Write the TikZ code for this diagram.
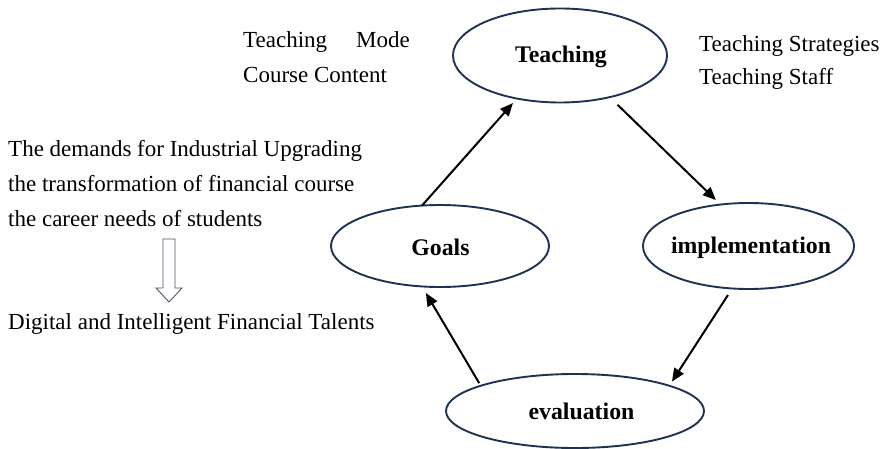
\documentclass[tikz,border=0pt]{standalone}
\usepackage{fontspec}
\setmainfont{Liberation Serif}
\usetikzlibrary{arrows.meta,shapes.geometric}
\definecolor{ringblue}{HTML}{1F3251}
\definecolor{hollowgray}{HTML}{4A5668}
\begin{document}
\begin{tikzpicture}[x=1pt,y=-1pt,
  stage/.style={ellipse,draw=ringblue,line width=1.9pt,inner sep=0pt,outer sep=0pt},
  stagetext/.style={anchor=base,font=\fontsize{23.8}{28}\selectfont\bfseries,inner sep=0pt},
  note/.style={anchor=base west,font=\fontsize{23}{27}\selectfont,inner sep=0pt},
  flow/.style={line width=2pt,-{Triangle[length=13pt,width=11pt]}}]
\useasboundingbox (0,0) rectangle (885,449);

% the four stages of the cycle
\node[stage,minimum width=214pt,minimum height=94pt] (teach) at (560,55.5) {};
\node[stage,minimum width=218pt,minimum height=82pt] (goals) at (440,246) {};
\node[stage,minimum width=211pt,minimum height=86pt] (impl) at (748.5,246) {};
\node[stage,minimum width=258pt,minimum height=74pt] (eval) at (575,411) {};

\node[stagetext] (teachtxt) at (561,63) {Teaching};
\node[stagetext] (goalstxt) at (440.5,255) {Goals};
\node[stagetext] (impltxt) at (751,253) {implementation};
\node[stagetext] (evaltxt) at (581.5,419) {evaluation};

% cycle arrows
\draw[flow,shorten >=6pt] (goals.114) -- (teach.-135);
\draw[flow,shorten <=11pt,shorten >=6.5pt] (teach.-40) -- (impl.124);
\draw[flow,shorten <=7.8pt,shorten >=5pt] (impl.-111) -- (eval.15);
\draw[flow,shorten <=3pt,shorten >=7.6pt] (eval.165) -- (goals.-114);

% notes beside the teaching stage
\node[note] (mode) at (243,48) {Teaching\hspace{29pt}Mode};
\node[note] (content) at (243,83) {Course Content};
\node[note] (strat) at (699,52) {Teaching Strategies};
\node[note] (staff) at (699,85) {Teaching Staff};

% drivers on the left
\node[note] (drive1) at (8,157) {The demands for Industrial Upgrading};
\node[note] (drive2) at (8,191.5) {the transformation of financial course};
\node[note] (drive3) at (8,226) {the career needs of students};
\node[note] (talent) at (8,329) {Digital and Intelligent Financial Talents};

% hollow down arrow
\draw[hollowgray,line width=0.9pt,line join=miter]
  (163,239) -- (175,239) -- (175,288) -- (182,288) -- (169,302)
  -- (156,288) -- (163,288) -- cycle;
\end{tikzpicture}
\end{document}
